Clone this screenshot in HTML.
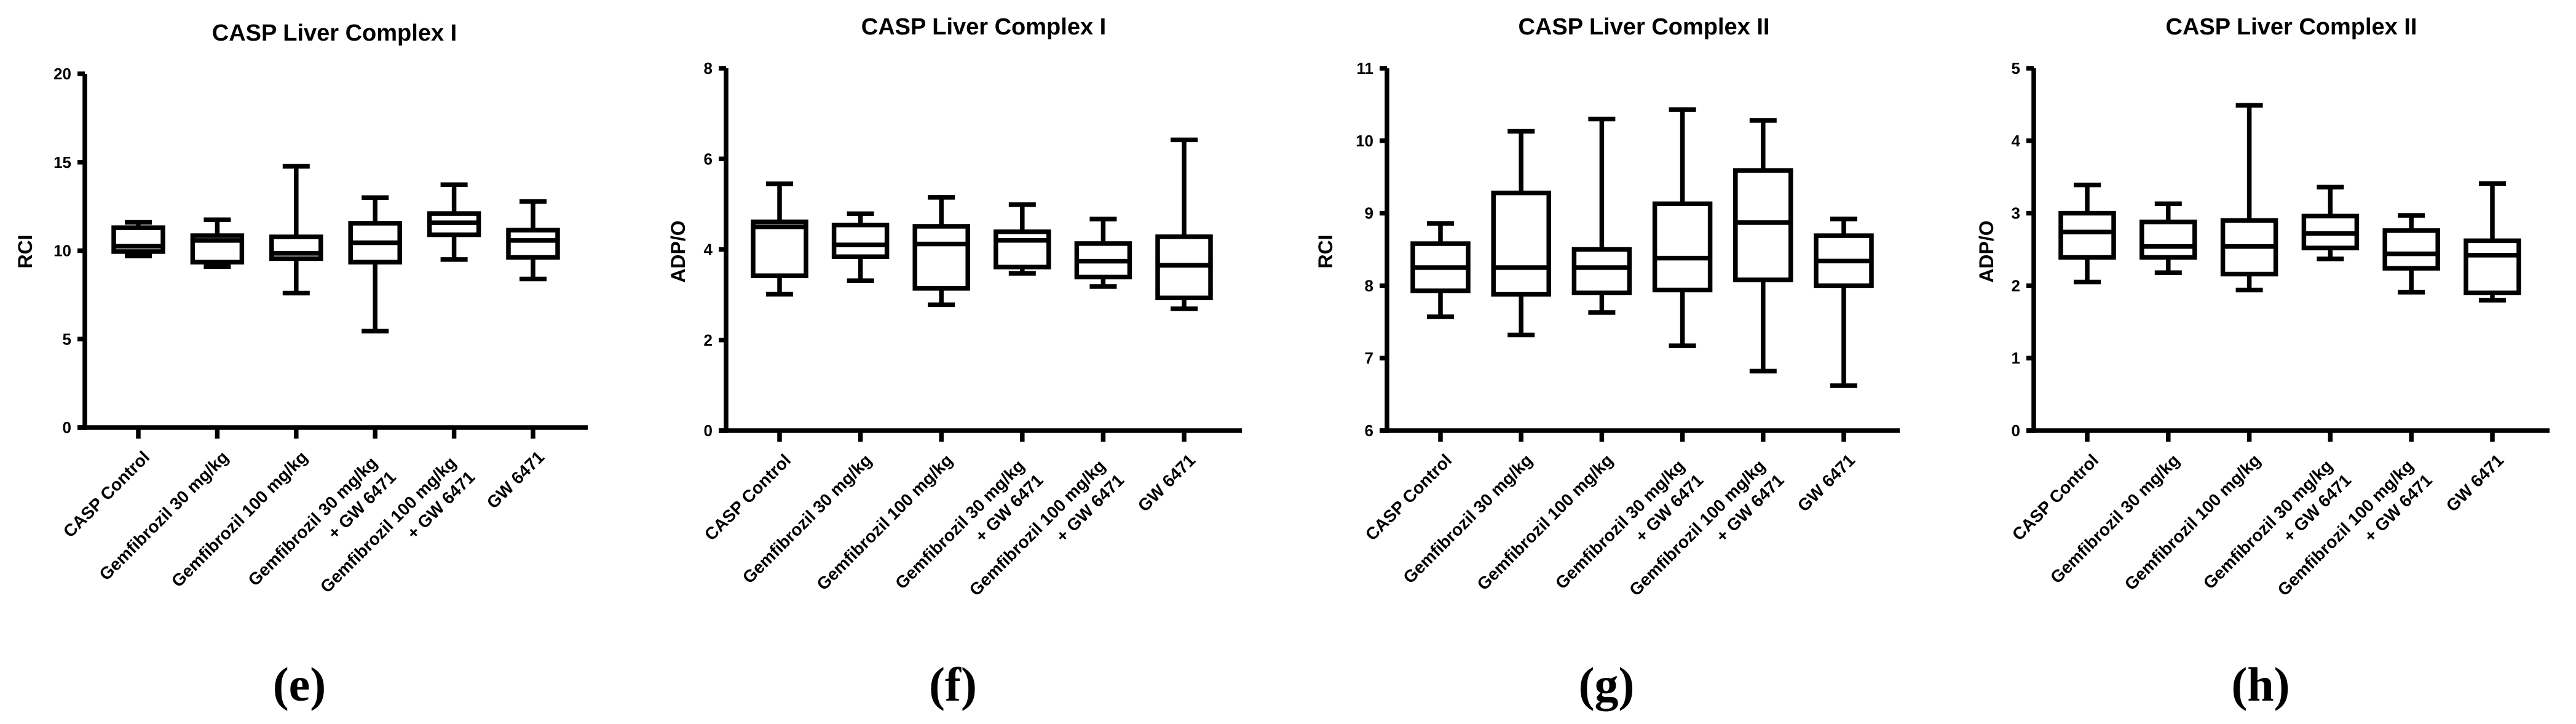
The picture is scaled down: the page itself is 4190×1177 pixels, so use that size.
<!DOCTYPE html>
<html><head><meta charset="utf-8">
<style>
html,body{margin:0;padding:0;background:#fff;}
svg{display:block;}
text{font-family:"Liberation Sans",Arial,sans-serif;font-weight:bold;fill:#000;}
.pl{font-family:"Liberation Serif","Times New Roman",serif;font-weight:bold;}
</style></head>
<body>
<svg id="fig" xmlns="http://www.w3.org/2000/svg" width="4190" height="1177" viewBox="0 0 4190 1177"></svg>
<script>
// Shared categories
const categories = [["CASP Control"],["Gemfibrozil 30 mg/kg"],["Gemfibrozil 100 mg/kg"],["Gemfibrozil 30 mg/kg","+ GW 6471"],["Gemfibrozil 100 mg/kg","+ GW 6471"],["GW 6471"]];

// Panel e: RCI complex I  [min, q1, median, q3, max]
const eMin = [9.7, 9.1, 7.6, 5.45, 9.5, 8.4];
const eQ1 = [9.95, 9.35, 9.55, 9.35, 10.9, 9.62];
const eMed = [10.25, 10.58, 9.85, 10.45, 11.58, 10.58];
const eQ3 = [11.3, 10.85, 10.78, 11.55, 12.1, 11.16];
const eMax = [11.6, 11.75, 14.77, 13.0, 13.73, 12.78];
const eTicks = [0, 5, 10, 15, 20];

// Panel f: ADP/O complex I
const fMin = [3.01, 3.31, 2.78, 3.47, 3.18, 2.69];
const fQ1 = [3.42, 3.84, 3.14, 3.61, 3.39, 2.93];
const fMed = [4.5, 4.1, 4.12, 4.2, 3.74, 3.65];
const fQ3 = [4.61, 4.54, 4.51, 4.39, 4.13, 4.28];
const fMax = [5.45, 4.79, 5.15, 4.99, 4.67, 6.42];
const fTicks = [0, 2, 4, 6, 8];

// Panel g: RCI complex II
const gMin = [7.57, 7.32, 7.63, 7.17, 6.82, 6.62];
const gQ1 = [7.93, 7.88, 7.9, 7.94, 8.08, 8.0];
const gMed = [8.25, 8.25, 8.25, 8.38, 8.87, 8.34];
const gQ3 = [8.58, 9.28, 8.5, 9.13, 9.59, 8.69];
const gMax = [8.86, 10.13, 10.3, 10.43, 10.28, 8.92];
const gTicks = [6, 7, 8, 9, 10, 11];

// Panel h: ADP/O complex II
const hMin = [2.05, 2.18, 1.94, 2.37, 1.91, 1.8];
const hQ1 = [2.39, 2.39, 2.16, 2.52, 2.24, 1.9];
const hMed = [2.74, 2.54, 2.54, 2.72, 2.44, 2.42];
const hQ3 = [3.0, 2.88, 2.9, 2.96, 2.76, 2.62];
const hMax = [3.39, 3.13, 4.49, 3.36, 2.97, 3.41];
const hTicks = [0, 1, 2, 3, 4, 5];

const NS = "http://www.w3.org/2000/svg";
const svg = document.getElementById('fig');
function mk(tag, attrs, parent, txt){
  const el = document.createElementNS(NS, tag);
  for (const k in attrs) el.setAttribute(k, attrs[k]);
  if (txt !== undefined) el.textContent = txt;
  parent.appendChild(el);
  return el;
}
const SW = 7.5;

const panels = [
  {id:'e', title:'CASP Liver Complex I', ytitle:'RCI', ax:138, top:120, bot:695, xend:956, c0:225, step:128.4, bw:80, tx:544, ty:66, ytx:52, ytY:409, lx:487,
   mn:eMin,q1:eQ1,md:eMed,q3:eQ3,mx:eMax,ticks:eTicks},
  {id:'f', title:'CASP Liver Complex I', ytitle:'ADP/O', ax:1181, top:111, bot:700, xend:2020, c0:1268, step:131.6, bw:86, tx:1600, ty:56, ytx:1114, ytY:409, lx:1550,
   mn:fMin,q1:fQ1,md:fMed,q3:fQ3,mx:fMax,ticks:fTicks},
  {id:'g', title:'CASP Liver Complex II', ytitle:'RCI', ax:2256, top:111, bot:700, xend:3090, c0:2343, step:131.2, bw:90, tx:2674, ty:56, ytx:2167, ytY:409, lx:2613,
   mn:gMin,q1:gQ1,md:gMed,q3:gQ3,mx:gMax,ticks:gTicks},
  {id:'h', title:'CASP Liver Complex II', ytitle:'ADP/O', ax:3308, top:111, bot:700, xend:4147, c0:3395, step:131.8, bw:86, tx:3727, ty:56, ytx:3242, ytY:409, lx:3677,
   mn:hMin,q1:hQ1,md:hMed,q3:hQ3,mx:hMax,ticks:hTicks}
];

panels.forEach(p => {
  const g = mk('g', {}, svg);
  
  
  const lo = p.ticks[0], hi = p.ticks[p.ticks.length-1];
  const y = v => p.bot - (v - lo) / (hi - lo) * (p.bot - p.top);
  const x = i => p.c0 + i * p.step;

  const t = mk('text', {x:p.tx, y:p.ty, 'text-anchor':'middle', 'font-size':38}, g, p.title);
  
  

  const yt = mk('text', {x:0, y:0, 'text-anchor':'middle', 'font-size':32, transform:`translate(${p.ytx},${p.ytY}) rotate(-90)`}, g, p.ytitle);
  
  

  // axes
  const ya = mk('line', {x1:p.ax, y1:p.top, x2:p.ax, y2:p.bot+SW/2, stroke:'#000', 'stroke-width':SW}, g);
  
  
  const xa = mk('line', {x1:p.ax-12, y1:p.bot, x2:p.xend, y2:p.bot, stroke:'#000', 'stroke-width':SW}, g);
  
  

  p.ticks.forEach(v => {
    const tl = mk('line', {x1:p.ax-12, y1:y(v), x2:p.ax, y2:y(v), stroke:'#000', 'stroke-width':SW}, g);
    
    
    const tt = mk('text', {x:p.ax-22, y:y(v)+9, 'text-anchor':'end', 'font-size':26}, g, String(v));
    
    
  });

  categories.forEach((lines, i) => {
    const cx = x(i);
    const tk = mk('line', {x1:cx, y1:p.bot, x2:cx, y2:p.bot+18, stroke:'#000', 'stroke-width':SW}, g);
    
    
    const lab = mk('text', {'text-anchor':'end', 'font-size':28, transform:`translate(${cx+20},${p.bot+50}) rotate(-45)`}, g);
    
    
    if (lines.length === 1) {
      mk('tspan', {x:0, y:0}, lab, lines[0]);
    } else {
      mk('tspan', {x:-17, y:-4}, lab, lines[0]);
      mk('tspan', {x:-12, y:34}, lab, lines[1]);
    }

    // box plot
    const bg = mk('g', {}, g);
    
    
    const cap = 22;
    mk('line', {x1:cx, y1:y(p.mx[i]), x2:cx, y2:y(p.q3[i]), stroke:'#000', 'stroke-width':SW}, bg);
    mk('line', {x1:cx, y1:y(p.mn[i]), x2:cx, y2:y(p.q1[i]), stroke:'#000', 'stroke-width':SW}, bg);
    mk('line', {x1:cx-cap, y1:y(p.mx[i]), x2:cx+cap, y2:y(p.mx[i]), stroke:'#000', 'stroke-width':SW}, bg);
    mk('line', {x1:cx-cap, y1:y(p.mn[i]), x2:cx+cap, y2:y(p.mn[i]), stroke:'#000', 'stroke-width':SW}, bg);
    mk('rect', {x:cx-p.bw/2, y:y(p.q3[i]), width:p.bw, height:y(p.q1[i])-y(p.q3[i]), fill:'#fff', stroke:'#000', 'stroke-width':SW}, bg);
    mk('line', {x1:cx-p.bw/2, y1:y(p.md[i]), x2:cx+p.bw/2, y2:y(p.md[i]), stroke:'#000', 'stroke-width':SW}, bg);
  });

  const pl = mk('text', {x:p.lx, y:1139, 'text-anchor':'middle', 'font-size':78, class:'pl'}, g, '(' + p.id + ')');
  
  
});
</script>
</body></html>
